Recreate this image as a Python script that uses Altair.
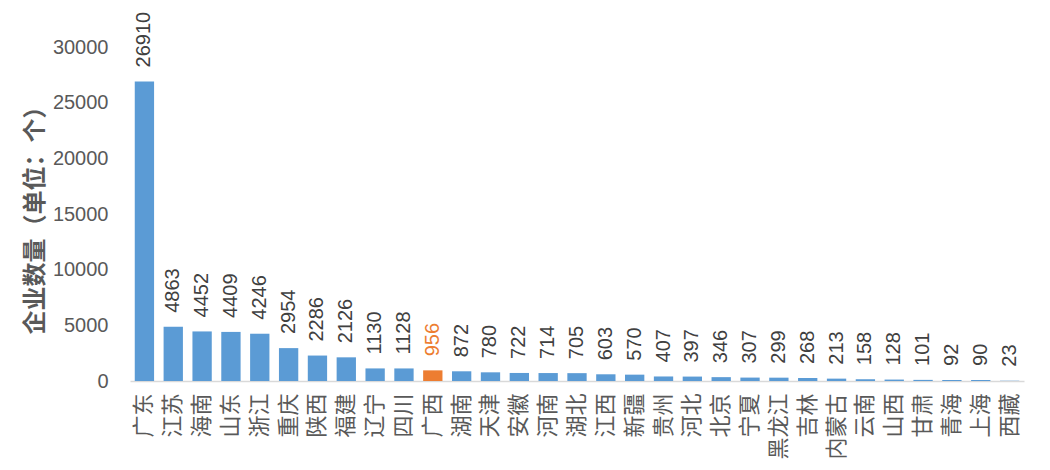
import altair as alt
import pandas as pd

provinces = ["广东", "江苏", "海南", "山东", "浙江", "重庆", "陕西", "福建", "辽宁", "四川",
             "广西", "湖南", "天津", "安徽", "河南", "湖北", "江西", "新疆", "贵州", "河北",
             "北京", "宁夏", "黑龙江", "吉林", "内蒙古", "云南", "山西", "甘肃", "青海", "上海", "西藏"]
counts = [26910, 4863, 4452, 4409, 4246, 2954, 2286, 2126, 1130, 1128,
          956, 872, 780, 722, 714, 705, 603, 570, 407, 397,
          346, 307, 299, 268, 213, 158, 128, 101, 92, 90, 23]
highlight = "广西"
y_ticks = [0, 5000, 10000, 15000, 20000, 25000, 30000]

df = pd.DataFrame({"province": provinces, "count": counts})

BLUE = "#5B9BD5"
ORANGE = "#ED7D31"

x_enc = alt.X(
    "province:N", sort=None, title=None,
    scale=alt.Scale(paddingInner=0.33, paddingOuter=0.165),
    axis=alt.Axis(labelAngle=270, labelFont="Noto Sans CJK SC", labelFontSize=22,
                  labelColor="#595959", labelPadding=12, ticks=False, tickSize=0,
                  domainColor="#D9D9D9", domainWidth=1.5, grid=False, labelOverlap=False),
)
y_enc = alt.Y(
    "count:Q", title="企业数量（单位：个）",
    scale=alt.Scale(domain=[0, 30000], nice=False),
    axis=alt.Axis(values=y_ticks, format="d", grid=False, domain=False, ticks=False, tickSize=0,
                  labelFont="Liberation Sans", labelFontSize=20, labelColor="#595959",
                  labelPadding=22, titleFont="Noto Sans CJK SC", titleFontSize=24,
                  titleFontWeight="bold", titleColor="#595959", titleX=-95, titleY=167,
                  titleAngle=270, titleAlign="center", titleBaseline="middle"),
)

is_hl = alt.datum.province == highlight

bars = alt.Chart(df).mark_bar().encode(
    x=x_enc, y=y_enc,
    color=alt.condition(is_hl, alt.value(ORANGE), alt.value(BLUE)),
)

labels = alt.Chart(df).mark_text(
    angle=270, align="left", baseline="middle", dx=14,
    font="Liberation Sans", fontSize=20,
).encode(
    x=alt.X("province:N", sort=None),
    y=alt.Y("count:Q"),
    text=alt.Text("count:Q", format="d"),
    color=alt.condition(is_hl, alt.value(ORANGE), alt.value("#404040")),
)

chart = (bars + labels).properties(
    width=894, height=334,
    padding={"left": 122, "top": 39, "right": 10, "bottom": 81},
    autosize=alt.AutoSizeParams(type="none"),
).configure(background="white").configure_view(stroke=None, strokeWidth=0)

chart.save("out.html", embed_options={"renderer": "svg", "actions": False})
